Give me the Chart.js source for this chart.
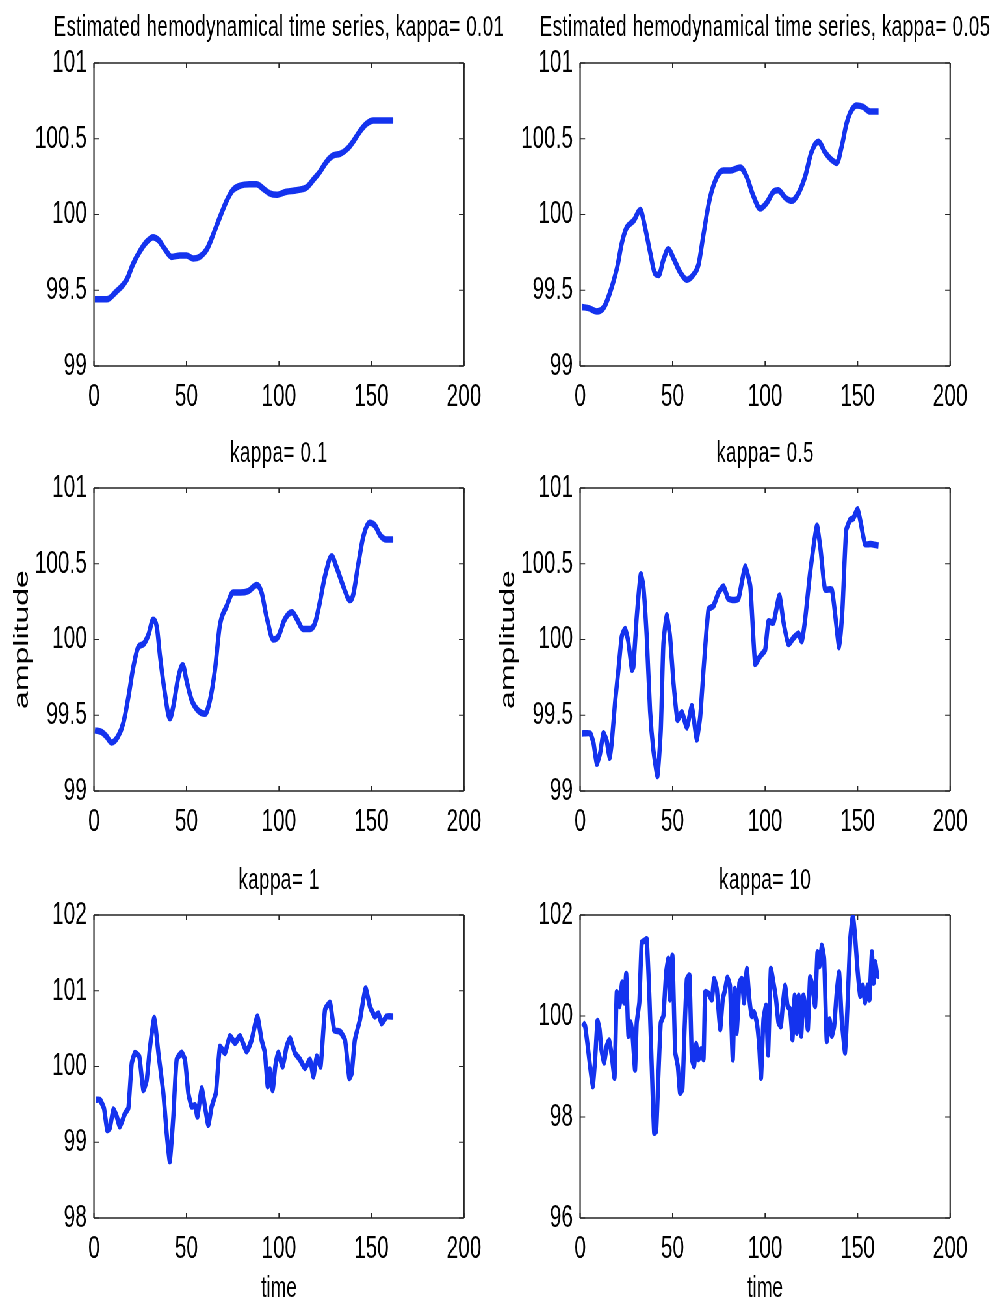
<!DOCTYPE html>
<html>
<head>
<meta charset="utf-8">
<script src="https://cdn.jsdelivr.net/npm/chart.js@4.4.1/dist/chart.umd.min.js"></script>
<style>
  html, body { margin: 0; padding: 0; background: #fff; width: 997px; height: 1308px; overflow: hidden; }
  /* the whole figure is laid out wide and compressed horizontally */
  #sheet { position: absolute; left: 0; top: 0; width: 1610px; height: 1308px;
           transform: scaleX(0.65); transform-origin: 0 0; }
  #sheet canvas { position: absolute; }
</style>
</head>
<body>
<div id="sheet"></div>
<script>
// ---- time axes and estimated series for each kappa ----
const t001 = [0.5,7,12,17.7,21,25,28.5,32,35,38.4,42,46.5,50,53.7,57,61,64.5,68,71.7,75,79,84,88,91.5,95,98.7,104,109.6,115,118.6,122,125.8,129.4,133,137.5,140,143.8,147.4,151,156.4,161.8];
const v001 = [99.44,99.44,99.49,99.57,99.67,99.76,99.82,99.85,99.83,99.77,99.72,99.73,99.73,99.71,99.72,99.77,99.87,99.98,100.09,100.16,100.19,100.20,100.20,100.17,100.14,100.13,100.15,100.16,100.18,100.23,100.28,100.35,100.39,100.40,100.44,100.48,100.55,100.60,100.62,100.62,100.62];

const t005 = [1,5,9,13,16,20,22.5,25,29,32.5,35,38,40.5,42.5,45,47.7,50.5,54,57.7,61,64,66.7,70,74,77.5,81,86.5,90,93.7,97.3,101,104.5,107,111,114.4,118,121.6,125,128.8,132.4,136,138.7,141.4,144,146.8,149.5,153,156.8,161.3];
const v005 = [99.39,99.38,99.36,99.39,99.48,99.65,99.81,99.91,99.96,100.03,99.92,99.74,99.61,99.60,99.70,99.77,99.71,99.62,99.57,99.60,99.67,99.87,100.10,100.25,100.29,100.29,100.31,100.25,100.12,100.04,100.08,100.15,100.16,100.11,100.09,100.14,100.25,100.41,100.48,100.41,100.36,100.34,100.45,100.60,100.69,100.72,100.71,100.68,100.68];

const t01 = [0.5,4,6.8,9.5,13,15.9,18.6,21.3,24,26.7,29.4,32,34,35.7,38.4,41,42.9,45.6,48,50,52.8,56.4,60,62.7,65.4,68,71.7,75.3,79,83.4,88,90.6,93.3,97,99.6,103,107,109.5,113,116.8,119.5,122,124.9,128.5,131,134.8,138.4,140,142.9,145.6,149,152,154.6,158,161.8];
const v01 = [99.40,99.39,99.36,99.32,99.36,99.45,99.62,99.82,99.95,99.97,100.03,100.13,100.08,99.89,99.64,99.48,99.56,99.75,99.83,99.73,99.60,99.53,99.51,99.60,99.80,100.09,100.22,100.31,100.31,100.32,100.36,100.31,100.15,100.00,100.02,100.13,100.18,100.14,100.07,100.07,100.11,100.24,100.42,100.55,100.48,100.35,100.26,100.29,100.50,100.68,100.77,100.75,100.69,100.66,100.66];

const t05 = [1,5.4,7.2,9,10.8,12.6,14.4,15.9,17,19,20.7,22.5,24.3,26,28,28.8,30.6,32.8,34.2,36,37.8,39.6,41.8,43.6,45,46.8,48.6,50.5,52.6,55,57.7,60.4,63,64.9,66.7,69.4,72,74.8,77.5,80,82.9,85.6,89.2,92,94.6,97.3,100,101.8,104.5,107.7,110,112.6,115.3,118,119.8,121.6,124.3,128,130,132.4,136,137.8,140,141.8,143.8,146,147.7,150,152,154,156.8,161.3];
const v05 = [99.38,99.38,99.32,99.18,99.25,99.38,99.33,99.22,99.31,99.60,99.80,100.02,100.07,99.99,99.80,99.82,100.15,100.43,100.35,100.02,99.53,99.27,99.10,99.40,99.97,100.16,100.02,99.71,99.47,99.52,99.42,99.56,99.34,99.49,99.80,100.20,100.22,100.31,100.35,100.27,100.26,100.27,100.48,100.35,99.84,99.89,99.93,100.12,100.11,100.29,100.11,99.97,100.01,100.04,99.99,100.13,100.44,100.75,100.59,100.33,100.33,100.17,99.95,100.20,100.72,100.79,100.80,100.86,100.75,100.63,100.63,100.62];

const t1 = [1,3.2,5.4,7.2,8.6,10.5,12.3,14,16.8,18.6,20.4,22.2,24.5,26.7,28.5,30.3,32.6,34.8,37.5,39.3,41,42.9,44.7,47.4,49.2,51,52.8,54.6,55.9,58.2,60,61.8,63.6,65.9,68.1,70.8,73.5,76.2,78.9,82.5,85.2,88.3,90.6,92.4,93.9,95.1,96.6,98,99.6,102,104.1,106,108.6,111.4,114,116.8,118.6,120.4,122.5,124.9,127.6,129.9,133,135.7,138,139.3,141,143.8,146.8,149.2,151.9,153.7,155.5,158.2,161.8];
const v1 = [99.56,99.56,99.45,99.16,99.19,99.43,99.34,99.21,99.38,99.45,100.04,100.18,100.13,99.69,99.82,100.26,100.64,100.18,99.65,99.12,98.75,99.34,100.09,100.18,100.09,99.65,99.47,99.49,99.34,99.71,99.47,99.23,99.47,99.65,100.26,100.18,100.40,100.31,100.40,100.20,100.35,100.66,100.35,100.18,99.74,99.96,99.69,100.00,100.18,100.00,100.26,100.37,100.18,100.09,99.98,100.09,99.87,100.13,100.00,100.75,100.84,100.48,100.46,100.35,99.85,99.91,100.35,100.62,101.03,100.79,100.66,100.70,100.57,100.66,100.66];

const t10 = [1.4,2.7,4.5,6.8,8.1,9.4,10.5,11.5,13,14.4,15.7,17.1,18.6,19.8,21.3,22.7,23.8,24.9,26.1,27.4,28.5,29.7,30.6,32,33.3,34.8,36,37.5,38.7,40,41.1,42.3,43.6,45,46.5,47.7,48.6,49.9,51.4,52.8,54,55.3,56.4,57.7,59.1,60.4,61.6,62.7,64,65.4,66.7,67.6,69.4,71.2,72.4,73.9,75.7,77.1,78.4,79.6,81,82.5,83.6,84.7,86.1,87.4,88.6,90.1,91.5,92.8,94,95.5,96.8,97.8,99.1,100.5,101.6,103.1,104.5,105.9,107.2,108.5,109.5,110.8,112.1,113.5,114.8,115.9,117.1,118.2,119.5,120.7,122,123.1,124.3,125.6,127,128.3,129.4,130.6,131.9,133.3,134.8,136,137.3,138.7,140,141.4,143.2,144.5,146,147.4,148.6,149.9,151.4,152.8,154,155.3,156.4,157.7,158.6,159.5,160.7,161.8];
const v10 = [99.87,99.80,99.28,98.61,99.14,99.90,99.74,99.34,99.08,99.41,99.51,99.21,98.78,100.47,100.20,100.66,100.27,100.83,99.61,99.87,99.54,98.94,99.87,100.27,101.46,101.49,101.52,100.33,99.01,97.69,97.72,98.81,99.87,100.00,100.86,101.13,100.33,101.19,99.28,99.01,98.48,98.55,99.67,100.73,100.80,99.15,99.01,99.44,99.15,99.34,99.15,100.47,100.44,100.33,100.73,100.53,99.74,100.33,100.53,100.76,100.60,99.14,100.53,99.67,100.66,100.73,100.27,100.93,100.33,100.00,100.07,99.87,99.41,98.78,99.93,100.20,99.24,100.93,100.66,100.33,99.87,99.80,100.20,100.60,100.20,100.13,99.54,100.40,99.67,100.40,99.61,100.40,100.13,99.74,100.76,100.60,100.20,101.26,100.99,101.39,101.13,99.51,99.93,99.61,99.80,100.47,100.86,99.93,99.28,100.20,101.52,101.99,101.59,100.93,100.40,100.60,100.27,100.60,100.33,101.26,100.66,101.06,100.80,100.80];

// ---- panel titles and axis ranges ----
const titles = [
  'Estimated hemodynamical time series, kappa= 0.01',
  'Estimated hemodynamical time series, kappa= 0.05',
  'kappa= 0.1', 'kappa= 0.5', 'kappa= 1', 'kappa= 10'
];
const yRanges = [[99, 101, 0.5], [99, 101, 0.5], [99, 101, 0.5], [99, 101, 0.5], [98, 102, 1], [96, 102, 2]];
const xRange = [0, 200, 50];

// ---- drawing ----
const SQ = 0.65;                       // horizontal compression of the sheet
const FONT = '"Liberation Sans", Arial, Helvetica, sans-serif';
const BLUE = '#1433ee';
const FRAME = '#262626';
const sheet = document.getElementById('sheet');

// box around the plot area with inward tick marks on all four sides, plus the centred title
const boxAndTitle = {
  id: 'boxAndTitle',
  beforeDatasetsDraw(chart, args, opts) {
    const { ctx, chartArea: a, scales: { x, y } } = chart;
    ctx.save();
    ctx.strokeStyle = FRAME;
    ctx.lineCap = 'butt';
    ctx.lineWidth = 1.4;
    ctx.beginPath();
    ctx.moveTo(a.left, a.top); ctx.lineTo(a.right, a.top);
    ctx.moveTo(a.left, a.bottom); ctx.lineTo(a.right, a.bottom);
    ctx.stroke();
    ctx.lineWidth = 1.4 / SQ;
    ctx.beginPath();
    ctx.moveTo(a.left, a.top); ctx.lineTo(a.left, a.bottom);
    ctx.moveTo(a.right, a.top); ctx.lineTo(a.right, a.bottom);
    ctx.stroke();
    // x ticks
    ctx.lineWidth = 1.1 / SQ;
    ctx.beginPath();
    x.ticks.forEach(t => {
      const px = x.getPixelForValue(t.value);
      ctx.moveTo(px, a.bottom); ctx.lineTo(px, a.bottom - 5);
      ctx.moveTo(px, a.top); ctx.lineTo(px, a.top + 5);
    });
    ctx.stroke();
    // y ticks
    ctx.lineWidth = 1.1;
    ctx.beginPath();
    y.ticks.forEach(t => {
      const py = y.getPixelForValue(t.value);
      ctx.moveTo(a.left, py); ctx.lineTo(a.left + 5 / SQ, py);
      ctx.moveTo(a.right, py); ctx.lineTo(a.right - 5 / SQ, py);
    });
    ctx.stroke();
    // title
    ctx.fillStyle = '#000';
    ctx.font = '29px ' + FONT;
    ctx.letterSpacing = '0.6px';
    ctx.textAlign = 'center';
    ctx.textBaseline = 'alphabetic';
    ctx.fillText(opts.text, (a.left + a.right) / 2, a.top - opts.gap);
    ctx.restore();
  }
};

const tickText = v => String(Number(v.toFixed(2)));

function panel(i, ts, vs, plotLeft, plotTop, titleGap, yTitle, xTitle, smooth) {
  const A = 92, T = 72, B = 96, PW = 370, PH = 303;
  const W = Math.round((PW + 2 * A) / SQ);
  const H = T + PH + B;
  const cv = document.createElement('canvas');
  cv.width = W; cv.height = H;
  cv.style.left = ((plotLeft - A) / SQ) + 'px';
  cv.style.top = (plotTop - T) + 'px';
  sheet.appendChild(cv);
  const [ymin, ymax, ystep] = yRanges[i];
  const pts = ts.map((t, k) => ({ x: t, y: vs[k] }));
  new Chart(cv, {
    type: 'line',
    data: { datasets: [{
      data: pts, borderColor: BLUE, borderWidth: 6.5, pointRadius: 0, fill: false,
      tension: smooth ? 0.4 : 0.15, cubicInterpolationMode: smooth ? 'monotone' : 'default',
      borderJoinStyle: 'round', borderCapStyle: 'butt'
    }] },
    options: {
      responsive: false, animation: false, events: [],
      layout: { padding: { left: 0, top: T, bottom: 0, right: W - (A + PW) / SQ } },
      plugins: {
        legend: { display: false }, tooltip: { enabled: false }, title: { display: false },
        boxAndTitle: { text: titles[i], gap: titleGap }
      },
      scales: {
        x: {
          type: 'linear', min: xRange[0], max: xRange[1],
          grid: { display: false, drawTicks: false }, border: { display: false },
          ticks: { stepSize: xRange[2], autoSkip: false, maxRotation: 0, padding: 12,
                   color: '#000', font: { family: FONT, size: 32 }, callback: tickText },
          title: { display: !!xTitle, text: xTitle || '', color: '#000',
                   font: { family: FONT, size: 29, lineHeight: 1.2 }, padding: { top: 7.6, bottom: 7.6 } },
          afterFit(s) { s.height = B; }
        },
        y: {
          type: 'linear', min: ymin, max: ymax,
          grid: { display: false, drawTicks: false }, border: { display: false },
          ticks: { stepSize: ystep, padding: 11, color: '#000', font: { family: FONT, size: 32 },
                   callback: tickText },
          title: { display: !!yTitle, text: yTitle || '', color: '#000',
                   font: { family: FONT, size: 32, lineHeight: 1.2 }, padding: { top: 11.6, bottom: 11.6 } },
          afterFit(s) { s.width = A / SQ; }
        }
      }
    },
    plugins: [boxAndTitle]
  });
}

panel(0, t001, v001, 94, 63, 27, null, null, true);
panel(1, t005, v005, 580, 63, 27, null, null, true);
panel(2, t01, v01, 94, 488, 25.6, 'amplitude', null, true);
panel(3, t05, v05, 580, 488, 25.6, 'amplitude', null, false);
panel(4, t1, v1, 94, 915, 26, null, 'time', false);
panel(5, t10, v10, 580, 915, 26, null, 'time', false);
</script>
</body>
</html>
